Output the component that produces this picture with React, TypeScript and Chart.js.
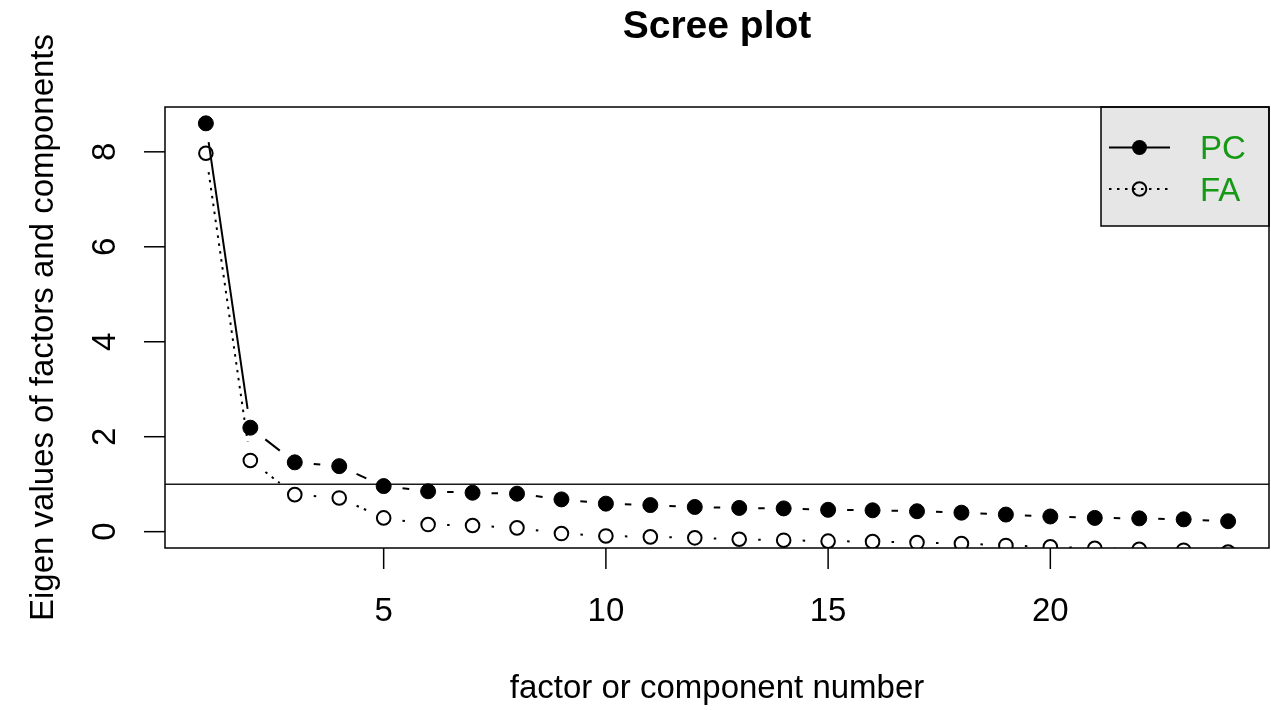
import React, { useEffect, useRef } from "react";
import { Chart, registerables } from "chart.js";

Chart.register(...registerables);

// ---- data ----
const componentNumbers = [1, 2, 3, 4, 5, 6, 7, 8, 9, 10, 11, 12, 13, 14, 15, 16, 17, 18, 19, 20, 21, 22, 23, 24];
const pcEigenValues = [8.6, 2.19, 1.46, 1.38, 0.96, 0.85, 0.82, 0.8, 0.68, 0.59, 0.56, 0.52, 0.5, 0.49, 0.46, 0.45, 0.43, 0.4, 0.36, 0.32, 0.29, 0.28, 0.26, 0.22];
const faEigenValues = [7.97, 1.5, 0.78, 0.71, 0.29, 0.15, 0.13, 0.08, -0.04, -0.09, -0.11, -0.13, -0.16, -0.18, -0.2, -0.21, -0.23, -0.25, -0.29, -0.32, -0.35, -0.37, -0.39, -0.43];
const xTickValues = [5, 10, 15, 20];
const yTickValues = [0, 2, 4, 6, 8];
const referenceLevel = 1;
const legendLabels = ["PC", "FA"];
const chartTitle = "Scree plot";
const xAxisTitle = "factor or component number";
const yAxisTitle = "Eigen values of factors and components";

// R-style axis ranges (4% extension)
const xLo = Math.min(...componentNumbers);
const xHi = Math.max(...componentNumbers);
const yLo = 0;
const yHi = Math.max(...pcEigenValues);
const X_MIN = xLo - 0.04 * (xHi - xLo);
const X_MAX = xHi + 0.04 * (xHi - xLo);
const Y_MIN = yLo - 0.04 * (yHi - yLo);
const Y_MAX = yHi + 0.04 * (yHi - yLo);

const FONT = '"Liberation Sans", Arial, Helvetica, sans-serif';
const GAP = 19;
const LEGEND_GREEN = "#169a16";

const rPlotPlugin = {
  id: "rplot",
  beforeDatasetsDraw(chart: any) {
    const { ctx, chartArea: a } = chart;
    const ys = chart.scales.y;
    ctx.save();
    // reference line
    const yRef = ys.getPixelForValue(referenceLevel);
    ctx.strokeStyle = "#1a1a1a";
    ctx.lineWidth = 1.5;
    ctx.beginPath();
    ctx.moveTo(a.left, yRef);
    ctx.lineTo(a.right, yRef);
    ctx.stroke();
    // gapped lines (type = "b")
    ctx.beginPath();
    ctx.rect(a.left, a.top, a.right - a.left, a.bottom - a.top);
    ctx.clip();
    chart.data.datasets.forEach((ds: any, i: number) => {
      const pts = chart.getDatasetMeta(i).data;
      ctx.setLineDash(ds.borderDash || []);
      ctx.lineWidth = 2;
      ctx.strokeStyle = "#000";
      ctx.lineCap = "butt";
      for (let k = 0; k < pts.length - 1; k++) {
        const p0 = pts[k];
        const p1 = pts[k + 1];
        const dx = p1.x - p0.x;
        const dy = p1.y - p0.y;
        const len = Math.hypot(dx, dy);
        if (len <= 2 * GAP) continue;
        const ux = dx / len;
        const uy = dy / len;
        ctx.beginPath();
        ctx.moveTo(p0.x + ux * GAP, p0.y + uy * GAP);
        ctx.lineTo(p1.x - ux * GAP, p1.y - uy * GAP);
        ctx.stroke();
      }
    });
    ctx.restore();
  },
  afterDraw(chart: any) {
    const { ctx, chartArea: a } = chart;
    const xs = chart.scales.x;
    const ys = chart.scales.y;
    ctx.save();
    ctx.setLineDash([]);
    ctx.strokeStyle = "#000";
    ctx.fillStyle = "#000";

    // legend box (top right)
    const lx0 = 1101, ly0 = a.top, lx1 = a.right, ly1 = 226;
    ctx.fillStyle = "#e6e6e6";
    ctx.fillRect(lx0, ly0, lx1 - lx0, ly1 - ly0);
    ctx.lineWidth = 1.5;
    ctx.strokeStyle = "#000";
    ctx.strokeRect(lx0, ly0, lx1 - lx0, ly1 - ly0);
    const rowY = [147.5, 189];
    // PC row
    ctx.lineWidth = 2;
    ctx.beginPath();
    ctx.moveTo(1109, rowY[0]);
    ctx.lineTo(1170, rowY[0]);
    ctx.stroke();
    ctx.fillStyle = "#000";
    ctx.beginPath();
    ctx.arc(1139.5, rowY[0], 7.5, 0, Math.PI * 2);
    ctx.fill();
    // FA row
    ctx.setLineDash([2.5, 5.5]);
    ctx.beginPath();
    ctx.moveTo(1109, rowY[1]);
    ctx.lineTo(1170, rowY[1]);
    ctx.stroke();
    ctx.setLineDash([]);
    ctx.beginPath();
    ctx.arc(1139.5, rowY[1], 6.8, 0, Math.PI * 2);
    ctx.stroke();
    ctx.fillStyle = LEGEND_GREEN;
    ctx.font = `33px ${FONT}`;
    ctx.textAlign = "left";
    ctx.textBaseline = "alphabetic";
    ctx.fillText(legendLabels[0], 1200, 159);
    ctx.fillText(legendLabels[1], 1200, 200.5);

    // plot box
    ctx.strokeStyle = "#000";
    ctx.lineWidth = 1.5;
    ctx.strokeRect(a.left, a.top, a.right - a.left, a.bottom - a.top);

    ctx.fillStyle = "#000";
    ctx.font = `33px ${FONT}`;
    // x axis ticks + labels
    ctx.textAlign = "center";
    ctx.textBaseline = "alphabetic";
    xTickValues.forEach((v) => {
      const px = xs.getPixelForValue(v);
      ctx.beginPath();
      ctx.moveTo(px, a.bottom);
      ctx.lineTo(px, a.bottom + 21);
      ctx.stroke();
      ctx.fillText(String(v), px, 621);
    });
    // y axis ticks + rotated labels
    yTickValues.forEach((v) => {
      const py = ys.getPixelForValue(v);
      ctx.beginPath();
      ctx.moveTo(a.left - 21, py);
      ctx.lineTo(a.left, py);
      ctx.stroke();
      ctx.save();
      ctx.translate(115, py);
      ctx.rotate(-Math.PI / 2);
      ctx.fillText(String(v), 0, 0);
      ctx.restore();
    });

    // axis titles
    const cx = (a.left + a.right) / 2;
    const cy = (a.top + a.bottom) / 2;
    ctx.fillText(xAxisTitle, cx, 698);
    ctx.save();
    ctx.translate(53, cy);
    ctx.rotate(-Math.PI / 2);
    ctx.fillText(yAxisTitle, 0, 0);
    ctx.restore();

    // main title
    ctx.font = `bold 39px ${FONT}`;
    ctx.fillText(chartTitle, cx, 38);
    ctx.restore();
  },
};

export default function App() {
  const canvasRef = useRef<HTMLCanvasElement | null>(null);

  useEffect(() => {
    const canvas = canvasRef.current;
    if (!canvas) return;
    const chart = new Chart(canvas, {
      type: "scatter",
      data: {
        datasets: [
          {
            label: legendLabels[0],
            data: componentNumbers.map((x, i) => ({ x, y: pcEigenValues[i] })),
            showLine: false,
            pointRadius: 7.5,
            pointBackgroundColor: "#000",
            pointBorderColor: "#000",
            pointBorderWidth: 1,
            borderDash: [],
            clip: 0,
          } as any,
          {
            label: legendLabels[1],
            data: componentNumbers.map((x, i) => ({ x, y: faEigenValues[i] })),
            showLine: false,
            pointRadius: 6.8,
            pointBackgroundColor: "rgba(0,0,0,0)",
            pointBorderColor: "#000",
            pointBorderWidth: 2,
            borderDash: [2.5, 5.5],
            clip: 0,
          } as any,
        ],
      },
      options: {
        responsive: false,
        animation: false,
        events: [],
        layout: { autoPadding: false, padding: { left: 165, top: 107, right: 2, bottom: 162 } },
        scales: {
          x: { type: "linear", min: X_MIN, max: X_MAX, display: false },
          y: { type: "linear", min: Y_MIN, max: Y_MAX, display: false },
        },
        plugins: {
          legend: { display: false },
          tooltip: { enabled: false },
          title: { display: false },
        },
      },
      plugins: [rPlotPlugin],
    });
    return () => chart.destroy();
  }, []);

  return (
    <div style={{ position: "fixed", left: 0, top: 0, width: 1271, height: 710, background: "#fff" }}>
      <canvas ref={canvasRef} width={1271} height={710} style={{ display: "block" }} />
    </div>
  );
}
